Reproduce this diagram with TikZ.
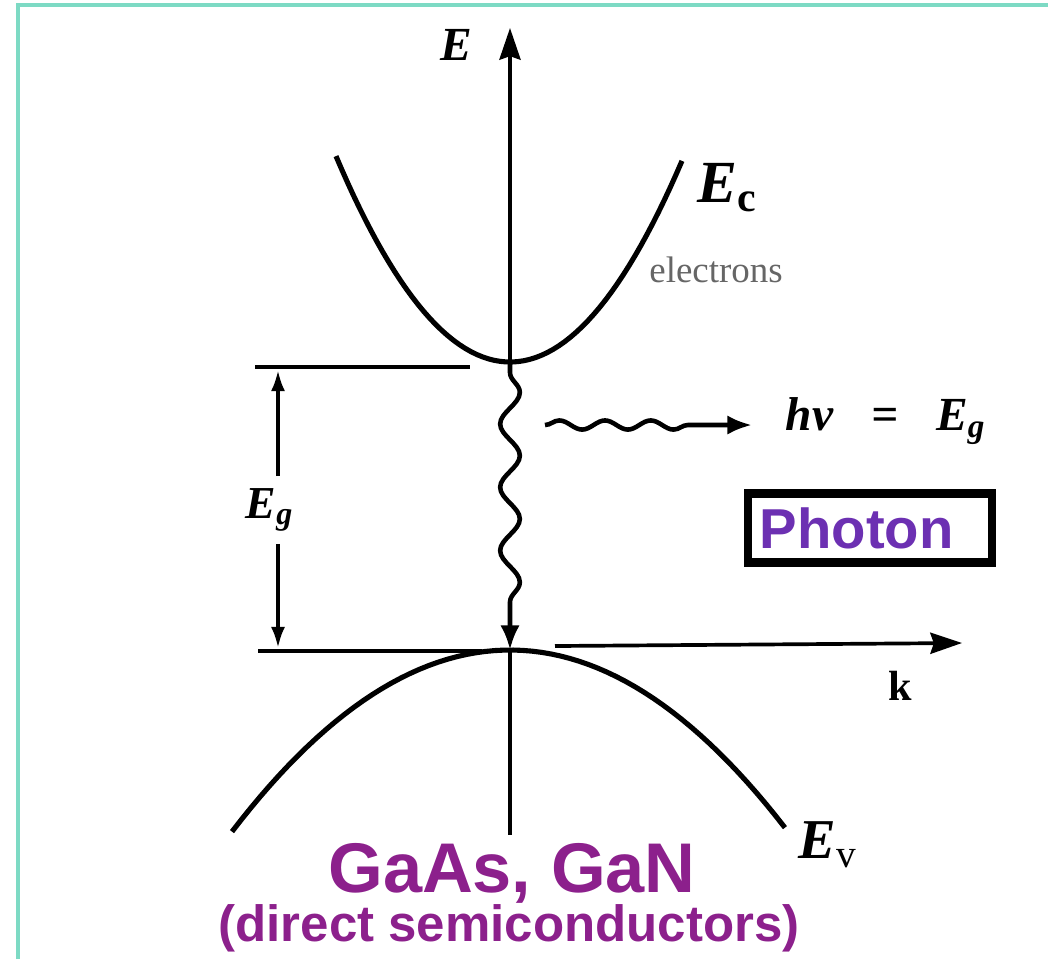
\documentclass[tikz,border=0pt]{standalone}
\usepackage{fontspec}
\setmainfont{Liberation Serif}
\newfontfamily\labelfont{Liberation Sans}
\usetikzlibrary{arrows.meta,decorations.pathmorphing}
\definecolor{framegreen}{RGB}{125,218,196}
\definecolor{photonpurple}{RGB}{108,48,178}
\definecolor{gaaspurple}{RGB}{140,32,140}

\begin{document}
\begin{tikzpicture}[x=0.01cm, y=-0.01cm,
        band/.style={line width=1.45pt},
        axis/.style={line width=1.05pt},
        bigtip/.style={-{Stealth[length=9pt,width=6pt,inset=1pt]}},
        smalltip/.style={-{Latex[length=6pt,width=4pt]}},
        wavetip/.style={-{Latex[length=7pt,width=5.5pt]}},
        wave/.style={line width=1.3pt, decorate}]
        \useasboundingbox (0,0) rectangle (1048,959);

        % Page frame
        \draw[framegreen, line width=1pt] (18,959) -- (18,5) -- (1048,5);

        % Axes (the E axis stops at the band edges)
        \coordinate (Ebot) at (510,835);
        \coordinate (Etop) at (510,28);
        \coordinate (cbmin) at (510,362);
        \coordinate (vbmax) at (510,650);
        \draw[axis, bigtip] (cbmin) -- (Etop);
        \draw[axis] (vbmax) -- (Ebot);
        \node[font=\fontsize{13.5}{15}\selectfont\bfseries\itshape] (Elbl) at (456,45) {E};

        \coordinate (kstart) at (555,646);
        \coordinate (kend) at (962,643);
        \draw[axis, bigtip] (kstart) -- (kend);
        \node[font=\fontsize{12}{14}\selectfont\bfseries] (klbl) at (900,686) {k};

        % Conduction and valence bands
        \draw[band] plot[domain=-1.74:1.72, samples=60] ({510+100*\x},{362-68*\x*\x});
        \draw[band] plot[domain=-2.78:2.75, samples=60] ({510+100*\x},{650+23.5*\x*\x});
        \node[font=\fontsize{17}{20}\selectfont\bfseries\itshape] (Eclbl) at (728,188) {E\textsubscript{\upshape c}};
        \node[font=\fontsize{16}{19}\selectfont\bfseries\itshape] (Evlbl) at (828,845) {E\textsubscript{\upshape\mdseries v}};
        \node[text=black!60, font=\fontsize{10.5}{12}\selectfont] (elec) at (716,270) {electrons};

        % Band edge levels and gap
        \coordinate (ctopL) at (255,367);
        \coordinate (ctopR) at (470,367);
        \coordinate (cbotL) at (258,651);
        \coordinate (cbotR) at (482,651);
        \draw[axis] (ctopL) -- (ctopR);
        \draw[axis] (cbotL) -- (cbotR);

        \coordinate (gtop) at (278,370);
        \coordinate (gbot) at (278,648);
        \node[font=\fontsize{13}{15}\selectfont\bfseries\itshape] (Eglbl) at (270,510) {E\textsubscript{g}};
        \draw[axis, smalltip] (Eglbl.north -| gtop) -- (gtop);
        \draw[axis, smalltip] (Eglbl.south -| gbot) -- (gbot);

        % Recombination and emitted photon
        \draw[wave, wavetip, decoration={snake, amplitude=2.8pt, segment length=18pt, pre length=3pt, post length=10pt}] (cbmin) -- (vbmax);

        \coordinate (wstart) at (545,425);
        \coordinate (wend) at (752,425);
        \draw[wave, wavetip, decoration={snake, amplitude=1.3pt, segment length=13pt, post length=12pt}] (wstart) -- (wend);
        \node[font=\fontsize{13.5}{16}\selectfont\bfseries\itshape] (hvlbl) at (886,421) {hν\hspace{0.8em}=\hspace{0.8em}E\textsubscript{g}};

        \node[draw, line width=2.3pt, text width=2.2cm, inner xsep=0.12cm, minimum height=0.69cm, align=left,
              text=photonpurple, font=\labelfont\bfseries\fontsize{16}{18}\selectfont] (photon) at (870,528) {Photon};

        % Material
        \node[inner sep=0.5pt, text=gaaspurple, font=\labelfont\bfseries\fontsize{20}{24}\selectfont] (material) at (512,873) {GaAs, GaN};
        \node[inner sep=0.5pt, text=gaaspurple, font=\labelfont\bfseries\fontsize{14.5}{17}\selectfont] (kind) at (509,928) {(direct semiconductors)};
    \end{tikzpicture}
\end{document}
